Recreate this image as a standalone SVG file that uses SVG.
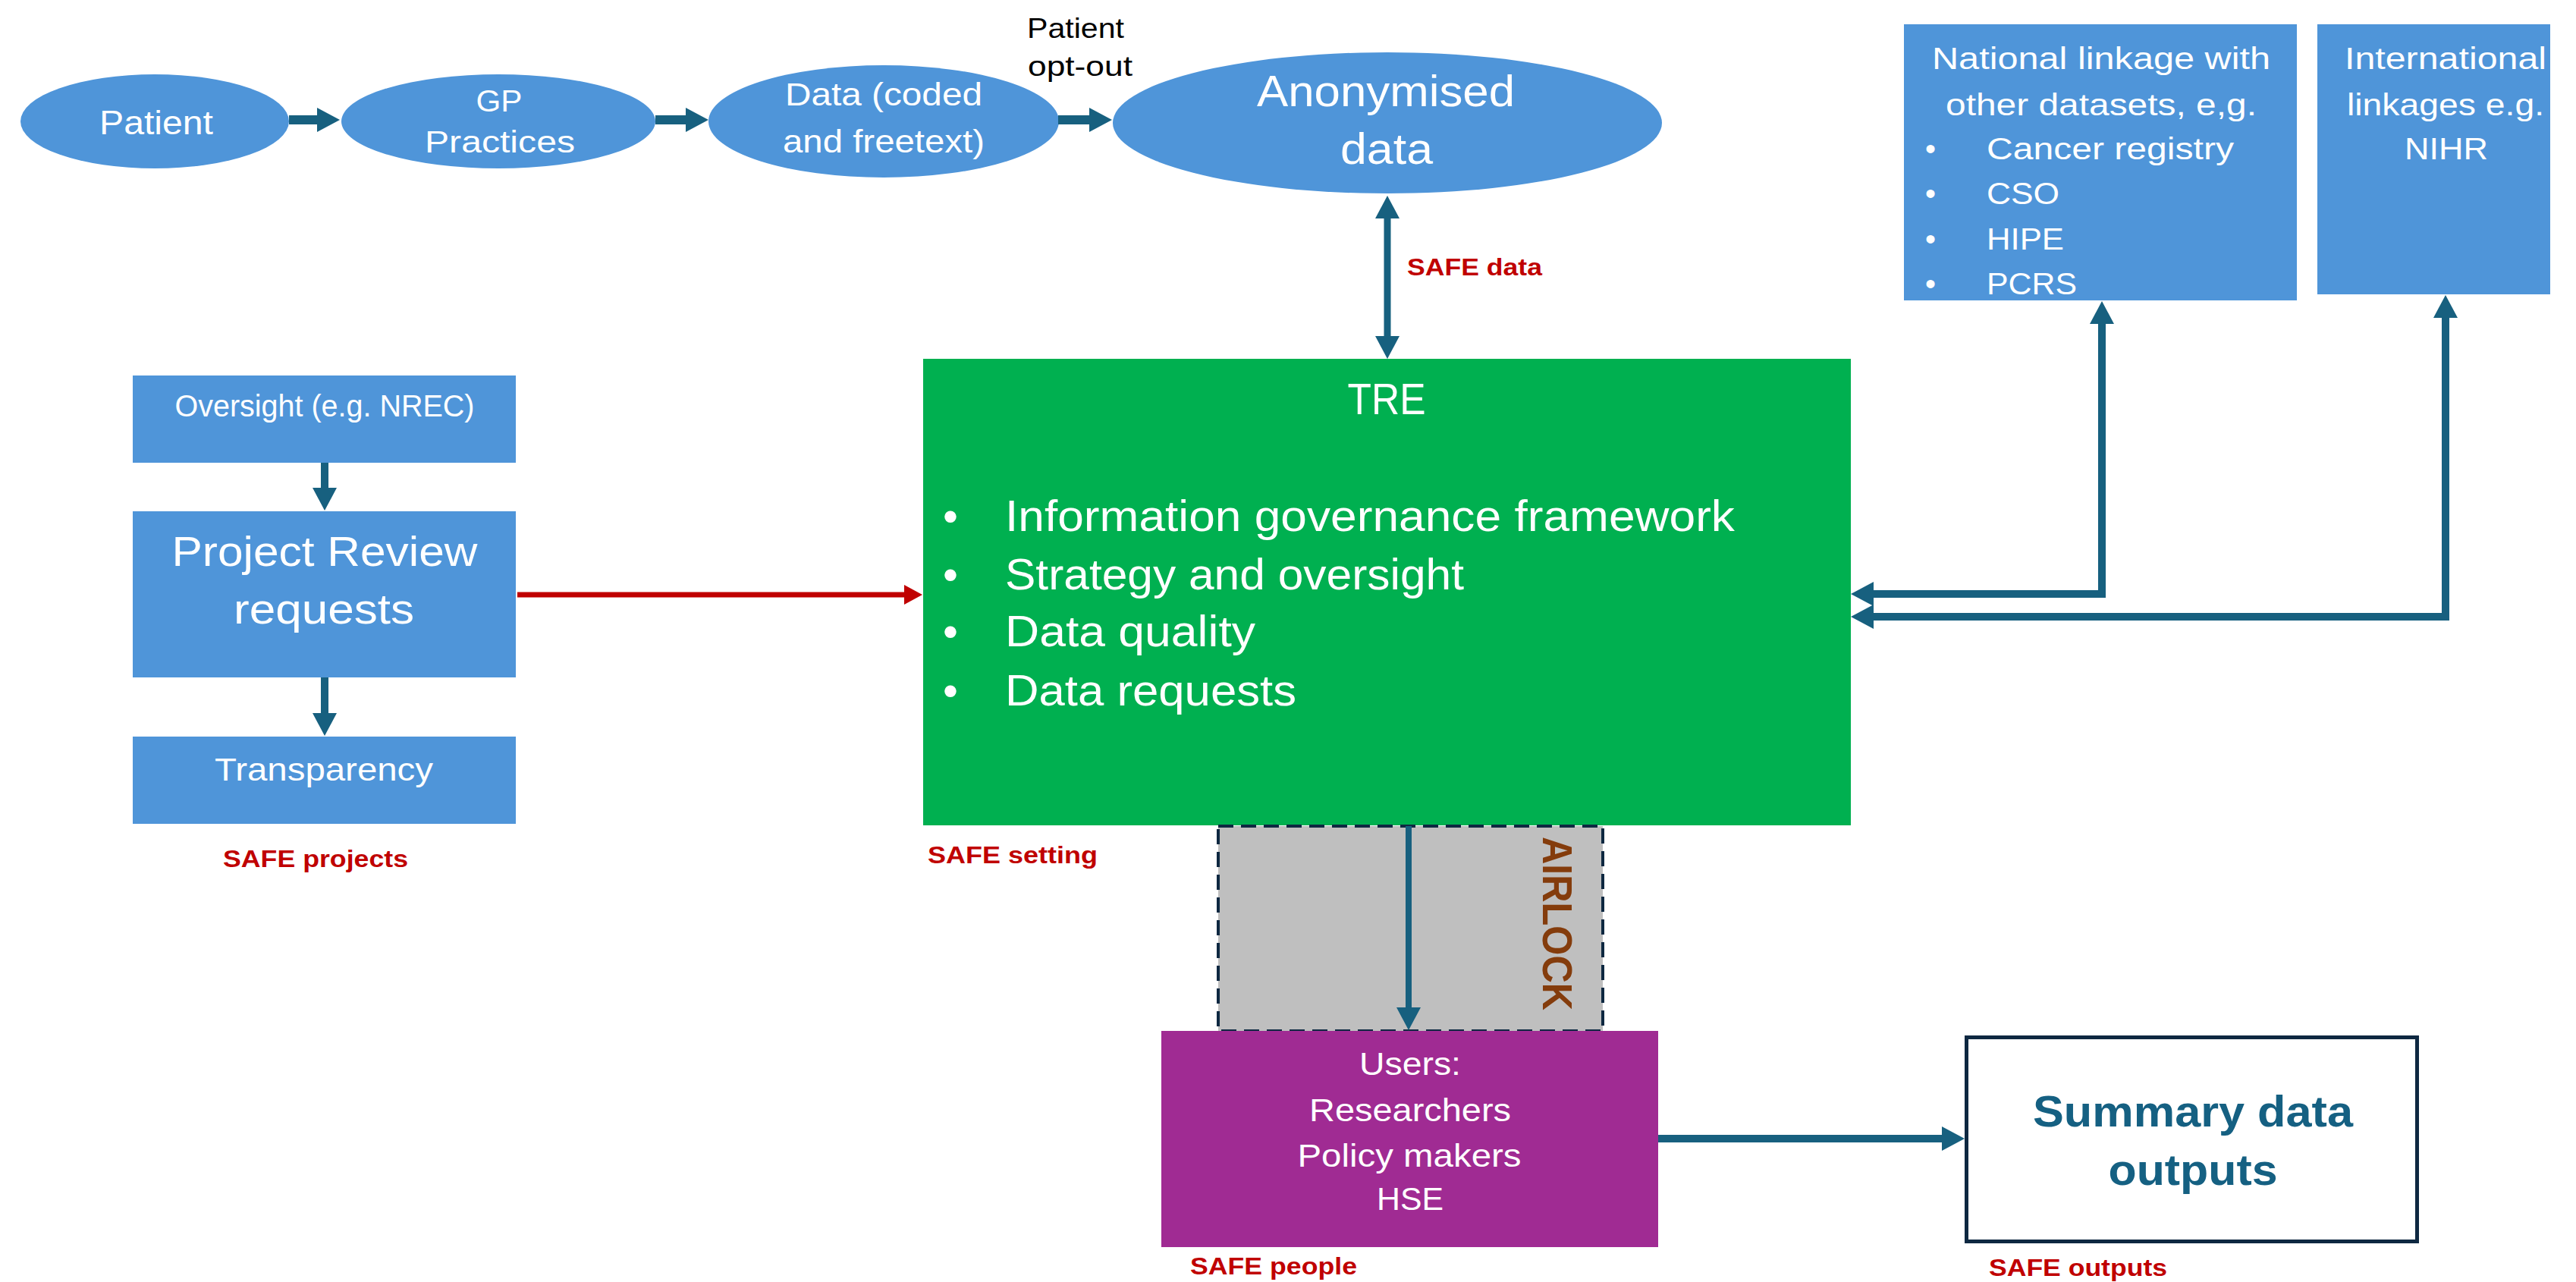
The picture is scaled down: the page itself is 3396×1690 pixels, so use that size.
<svg xmlns="http://www.w3.org/2000/svg" width="3396" height="1690" viewBox="0 0 3396 1690">
<defs>
<style>
text{font-family:"Liberation Sans",Arial,sans-serif}
.w{fill:#ffffff}
.c{text-anchor:middle}
.blue{fill:#4F95D9}
.safe{fill:#C00000;font-weight:bold;font-size:32px}
.con{fill:none;stroke:#17607F;stroke-linejoin:miter}
</style>
<marker id="ah" markerUnits="userSpaceOnUse" markerWidth="30" markerHeight="32" refX="3" refY="16" orient="auto-start-reverse">
<path d="M0,0 L30,16 L0,32 Z" fill="#17607F"/>
</marker>
<marker id="ahr" markerUnits="userSpaceOnUse" markerWidth="24" markerHeight="26" refX="3" refY="13" orient="auto">
<path d="M0,0 L24,13 L0,26 Z" fill="#C00000"/>
</marker>
</defs>
<rect width="3396" height="1690" fill="#ffffff"/>

<g id="patient">
<ellipse class="blue" cx="204" cy="160" rx="177" ry="62"/>
<text class="w c" x="206" y="177" font-size="45" textLength="150" lengthAdjust="spacingAndGlyphs">Patient</text>
</g>
<g id="gp">
<ellipse class="blue" cx="657" cy="160" rx="207" ry="62"/>
<text class="w c" x="658" y="147" font-size="41" textLength="61" lengthAdjust="spacingAndGlyphs">GP</text>
<text class="w c" x="659" y="201" font-size="41" textLength="198" lengthAdjust="spacingAndGlyphs">Practices</text>
</g>
<g id="data">
<ellipse class="blue" cx="1165" cy="160" rx="231" ry="74"/>
<text class="w c" x="1165" y="139" font-size="42" textLength="260" lengthAdjust="spacingAndGlyphs">Data (coded</text>
<text class="w c" x="1165" y="201" font-size="42" textLength="266" lengthAdjust="spacingAndGlyphs">and freetext)</text>
</g>
<g id="optout">
<text class="c" x="1418" y="50" font-size="37" fill="#000000" textLength="128" lengthAdjust="spacingAndGlyphs">Patient</text>
<text class="c" x="1424" y="100" font-size="37" fill="#000000" textLength="138" lengthAdjust="spacingAndGlyphs">opt-out</text>
</g>
<g id="anon">
<ellipse class="blue" cx="1829" cy="162" rx="362" ry="93"/>
<text class="w c" x="1827" y="140" font-size="58" textLength="340" lengthAdjust="spacingAndGlyphs">Anonymised</text>
<text class="w c" x="1828" y="216" font-size="58" textLength="122" lengthAdjust="spacingAndGlyphs">data</text>
</g>

<g id="national">
<rect class="blue" x="2510" y="32" width="518" height="364"/>
<text class="w c" x="2770" y="91" font-size="40" textLength="446" lengthAdjust="spacingAndGlyphs">National linkage with</text>
<text class="w c" x="2770" y="152" font-size="40" textLength="410" lengthAdjust="spacingAndGlyphs">other datasets, e,g.</text>
<text class="w c" x="2545" y="210" font-size="40">•</text>
<text class="w" x="2619" y="210" font-size="40" textLength="326" lengthAdjust="spacingAndGlyphs">Cancer registry</text>
<text class="w c" x="2545" y="269" font-size="40">•</text>
<text class="w" x="2619" y="269" font-size="40" textLength="96" lengthAdjust="spacingAndGlyphs">CSO</text>
<text class="w c" x="2545" y="329" font-size="40">•</text>
<text class="w" x="2619" y="329" font-size="40" textLength="102" lengthAdjust="spacingAndGlyphs">HIPE</text>
<text class="w c" x="2545" y="388" font-size="40">•</text>
<text class="w" x="2619" y="388" font-size="40" textLength="119" lengthAdjust="spacingAndGlyphs">PCRS</text>
</g>
<g id="international">
<rect class="blue" x="3055" y="32" width="307" height="356"/>
<text class="w c" x="3224" y="91" font-size="40" textLength="266" lengthAdjust="spacingAndGlyphs">International</text>
<text class="w c" x="3224" y="152" font-size="40" textLength="260" lengthAdjust="spacingAndGlyphs">linkages e.g.</text>
<text class="w c" x="3225" y="210" font-size="40" textLength="110" lengthAdjust="spacingAndGlyphs">NIHR</text>
</g>

<g id="oversight">
<rect class="blue" x="175" y="495" width="505" height="115"/>
<text class="w c" x="428" y="549" font-size="40" textLength="395" lengthAdjust="spacingAndGlyphs">Oversight (e.g. NREC)</text>
</g>
<g id="project">
<rect class="blue" x="175" y="674" width="505" height="219"/>
<text class="w c" x="428" y="746" font-size="56" textLength="403" lengthAdjust="spacingAndGlyphs">Project Review</text>
<text class="w c" x="427" y="822" font-size="56" textLength="238" lengthAdjust="spacingAndGlyphs">requests</text>
</g>
<g id="transparency">
<rect class="blue" x="175" y="971" width="505" height="115"/>
<text class="w c" x="427" y="1029" font-size="43" textLength="288" lengthAdjust="spacingAndGlyphs">Transparency</text>
</g>

<g id="tre">
<rect x="1217" y="473" width="1223" height="615" fill="#00B050"/>
<text class="w c" x="1828" y="546" font-size="57" textLength="103" lengthAdjust="spacingAndGlyphs">TRE</text>
<text class="w c" x="1253" y="700" font-size="57">•</text>
<text class="w" x="1325" y="700" font-size="57" textLength="962" lengthAdjust="spacingAndGlyphs">Information governance framework</text>
<text class="w c" x="1253" y="777" font-size="57">•</text>
<text class="w" x="1325" y="777" font-size="57" textLength="605" lengthAdjust="spacingAndGlyphs">Strategy and oversight</text>
<text class="w c" x="1253" y="852" font-size="57">•</text>
<text class="w" x="1325" y="852" font-size="57" textLength="330" lengthAdjust="spacingAndGlyphs">Data quality</text>
<text class="w c" x="1253" y="930" font-size="57">•</text>
<text class="w" x="1325" y="930" font-size="57" textLength="384" lengthAdjust="spacingAndGlyphs">Data requests</text>
</g>

<g id="airlock">
<rect x="1606" y="1089" width="507" height="270" fill="#BFBFBF" stroke="#0E2841" stroke-width="4" stroke-dasharray="20 10"/>
<text transform="translate(2034,1103) rotate(90)" x="0" y="0" font-size="56" font-weight="bold" fill="#843C0C" textLength="229" lengthAdjust="spacingAndGlyphs">AIRLOCK</text>
</g>

<g id="users">
<rect x="1531" y="1359" width="655" height="285" fill="#A02B93"/>
<text class="w c" x="1859" y="1417" font-size="43" textLength="134" lengthAdjust="spacingAndGlyphs">Users:</text>
<text class="w c" x="1859" y="1478" font-size="43" textLength="266" lengthAdjust="spacingAndGlyphs">Researchers</text>
<text class="w c" x="1858" y="1538" font-size="43" textLength="295" lengthAdjust="spacingAndGlyphs">Policy makers</text>
<text class="w c" x="1859" y="1595" font-size="43" textLength="88" lengthAdjust="spacingAndGlyphs">HSE</text>
</g>

<g id="summary">
<rect x="2592.5" y="1367.5" width="594" height="269" fill="#ffffff" stroke="#0E2841" stroke-width="5"/>
<text class="c" x="2891" y="1485" font-size="58" font-weight="bold" fill="#156082" textLength="422" lengthAdjust="spacingAndGlyphs">Summary data</text>
<text class="c" x="2891" y="1562" font-size="58" font-weight="bold" fill="#156082" textLength="223" lengthAdjust="spacingAndGlyphs">outputs</text>
</g>

<g id="labels">
<text class="safe" x="1855" y="363" textLength="178" lengthAdjust="spacingAndGlyphs">SAFE data</text>
<text class="safe" x="294" y="1143" textLength="244" lengthAdjust="spacingAndGlyphs">SAFE projects</text>
<text class="safe" x="1223" y="1138" textLength="224" lengthAdjust="spacingAndGlyphs">SAFE setting</text>
<text class="safe" x="1569" y="1680" textLength="220" lengthAdjust="spacingAndGlyphs">SAFE people</text>
<text class="safe" x="2622" y="1682" textLength="235" lengthAdjust="spacingAndGlyphs">SAFE outputs</text>
</g>

<g id="connectors">
<line class="con" x1="381" y1="158" x2="421" y2="158" stroke-width="12" marker-end="url(#ah)"/>
<line class="con" x1="864" y1="158" x2="907" y2="158" stroke-width="12" marker-end="url(#ah)"/>
<line class="con" x1="1395" y1="158" x2="1439" y2="158" stroke-width="12" marker-end="url(#ah)"/>
<line class="con" x1="1829" y1="285" x2="1829" y2="446" stroke-width="9" marker-start="url(#ah)" marker-end="url(#ah)"/>
<line class="con" x1="428" y1="610" x2="428" y2="646" stroke-width="10" marker-end="url(#ah)"/>
<line class="con" x1="428" y1="893" x2="428" y2="943" stroke-width="10" marker-end="url(#ah)"/>
<line x1="682" y1="784" x2="1195" y2="784" stroke="#C00000" stroke-width="7" marker-end="url(#ahr)"/>
<path class="con" d="M2467,783 L2771,783 L2771,424" stroke-width="10" marker-start="url(#ah)" marker-end="url(#ah)"/>
<path class="con" d="M2467,813 L3224,813 L3224,416" stroke-width="10" marker-start="url(#ah)" marker-end="url(#ah)"/>
<line class="con" x1="1857" y1="1089" x2="1857" y2="1331" stroke-width="8" marker-end="url(#ah)"/>
<line class="con" x1="2186" y1="1501" x2="2563" y2="1501" stroke-width="10" marker-end="url(#ah)"/>
</g>
</svg>
